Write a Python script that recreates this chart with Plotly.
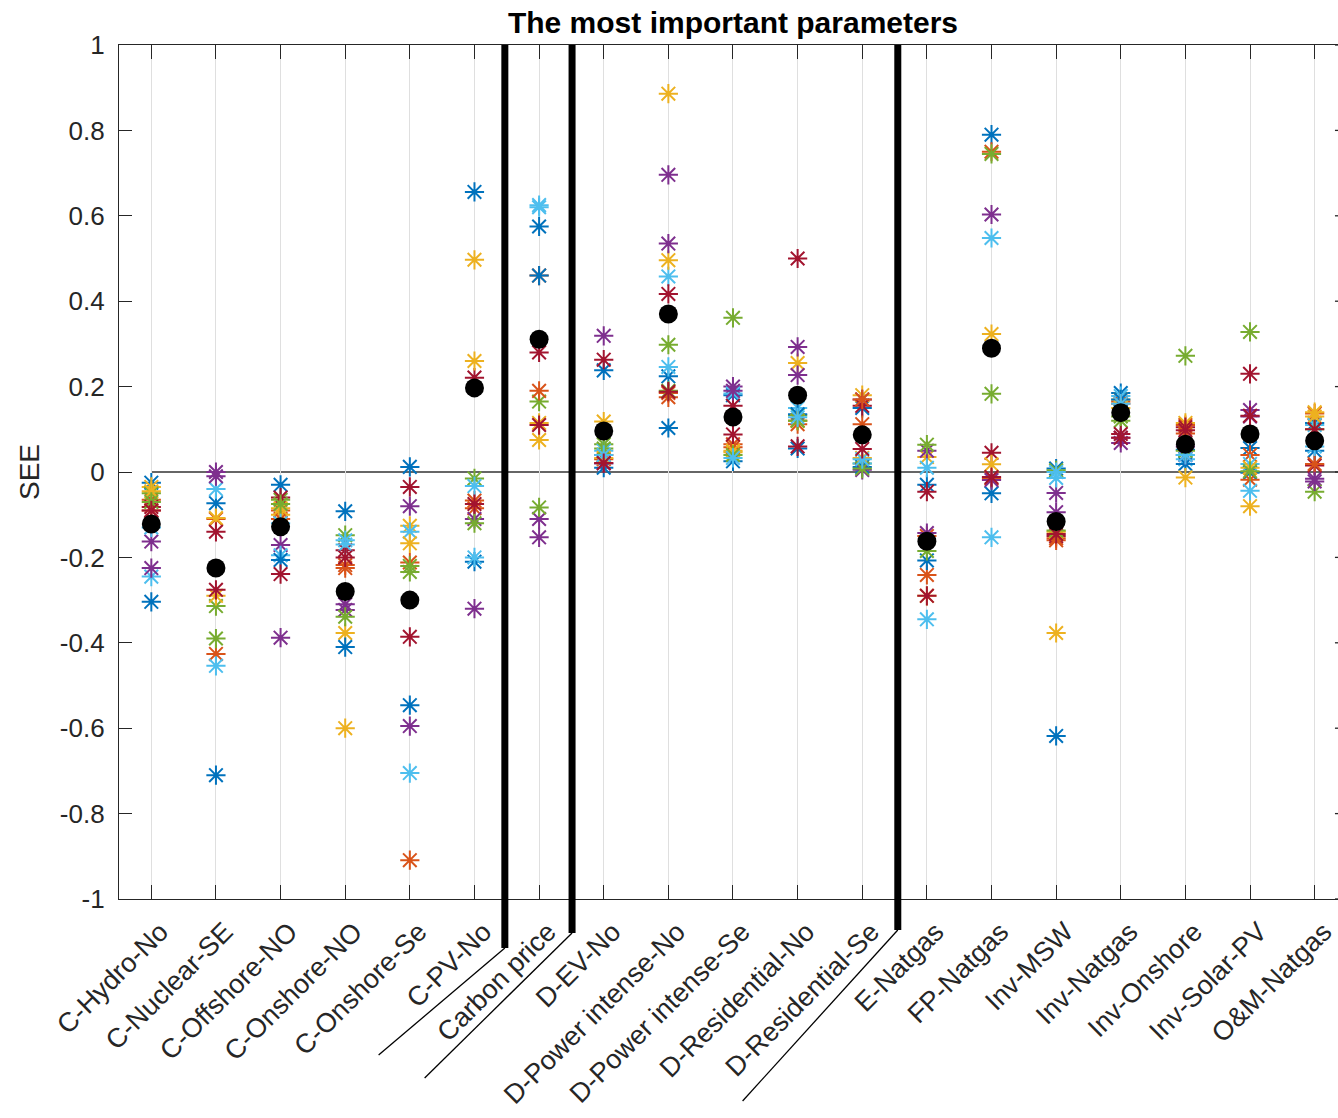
import plotly.graph_objects as go

categories = ["C-Hydro-No", "C-Nuclear-SE", "C-Offshore-NO", "C-Onshore-NO", "C-Onshore-Se",
              "C-PV-No", "Carbon price", "D-EV-No", "D-Power intense-No", "D-Power intense-Se",
              "D-Residential-No", "D-Residential-Se", "E-Natgas", "FP-Natgas", "Inv-MSW",
              "Inv-Natgas", "Inv-Onshore", "Inv-Solar-PV", "O&M-Natgas"]

run01 = [-0.025, -0.073, -0.03, -0.092, 0.012, 0.656, 0.575, 0.238, 0.224, 0.18, 0.055, 0.15, -0.03, 0.79, 0.008, 0.185, 0.052, 0.056, 0.115]
run02 = [-0.065, -0.11, -0.09, -0.218, -0.212, -0.067, 0.46, 0.03, 0.175, 0.058, 0.112, 0.112, -0.241, 0.75, -0.155, 0.165, 0.11, 0.04, 0.137]
run03 = [-0.035, -0.108, -0.1, -0.377, -0.126, 0.497, 0.115, 0.118, 0.886, 0.046, 0.255, 0.18, 0.035, 0.323, -0.377, 0.17, 0.115, -0.08, 0.14]
run04 = [-0.163, 0.0, -0.171, -0.31, -0.08, -0.32, -0.11, 0.319, 0.696, 0.2, 0.293, 0.17, 0.05, 0.603, -0.049, 0.068, 0.06, 0.145, -0.016]
run05 = [-0.05, -0.314, -0.065, -0.148, -0.234, -0.015, 0.165, 0.065, 0.298, 0.361, 0.133, 0.02, 0.064, 0.745, 0.004, 0.12, 0.272, 0.328, -0.046]
run06 = [-0.245, -0.04, -0.195, -0.16, -0.14, -0.033, 0.625, 0.05, 0.458, 0.184, 0.15, 0.02, 0.01, 0.548, -0.014, 0.178, 0.03, 0.019, 0.11]
run07 = [-0.082, -0.14, -0.06, -0.183, -0.035, 0.221, 0.28, 0.263, 0.417, 0.155, 0.5, 0.155, -0.046, 0.045, -0.15, 0.089, 0.105, 0.23, 0.015]
run08 = [-0.304, -0.71, -0.206, -0.41, -0.546, -0.21, 0.46, 0.01, 0.103, 0.025, 0.135, 0.012, -0.207, -0.05, -0.618, 0.17, 0.019, -0.002, 0.05]
run09 = [-0.09, -0.426, -0.11, -0.225, -0.909, -0.085, 0.19, 0.04, 0.185, 0.065, 0.12, 0.17, -0.15, -0.015, -0.16, 0.16, 0.09, -0.018, 0.019]
run10 = [-0.045, -0.29, -0.085, -0.6, -0.167, 0.26, 0.075, 0.033, 0.496, 0.05, 0.12, 0.033, -0.29, 0.018, -0.14, 0.15, -0.013, 0.01, 0.13]
run11 = [-0.225, -0.01, -0.388, -0.323, -0.595, -0.11, -0.153, 0.02, 0.535, 0.19, 0.227, 0.005, -0.143, -0.019, -0.094, 0.08, 0.04, 0.13, -0.022]
run12 = [-0.07, -0.39, -0.075, -0.339, -0.22, -0.12, -0.083, 0.055, 0.19, 0.04, 0.12, 0.008, -0.185, 0.183, -0.137, 0.13, 0.05, 0.002, 0.1]
run13 = [-0.13, -0.454, -0.12, -0.17, -0.705, -0.2, 0.62, 0.04, 0.246, 0.033, 0.128, 0.03, -0.345, -0.153, 0.0, 0.16, 0.04, -0.044, 0.06]
run14 = [-0.09, -0.276, -0.239, -0.2, -0.386, -0.075, 0.11, 0.021, 0.188, 0.088, 0.06, 0.054, -0.29, -0.012, -0.145, 0.08, 0.098, 0.132, 0.1]

mean_see = [-0.122, -0.225, -0.128, -0.28, -0.3, 0.197, 0.311, 0.096, 0.37, 0.129, 0.18, 0.087,
            -0.162, 0.29, -0.116, 0.139, 0.065, 0.089, 0.073]

y_ticks = [1, 0.8, 0.6, 0.4, 0.2, 0, -0.2, -0.4, -0.6, -0.8, -1]
y_tick_text = ["1", "0.8", "0.6", "0.4", "0.2", "0", "-0.2", "-0.4", "-0.6", "-0.8", "-1"]

runs = [run01, run02, run03, run04, run05, run06, run07, run08, run09, run10, run11, run12, run13, run14]
colors = ["#0072BD", "#D95319", "#EDB120", "#7E2F8E", "#77AC30", "#4DBEEE", "#A2142F"]

xpos = list(range(1, len(categories) + 1))
FONT = "Liberation Sans, Arial, Helvetica, sans-serif"
AX = "#262626"

W, H = 1338, 1118
L, T, PH = 119, 45, 854

fig = go.Figure()
for i, r in enumerate(runs):
    c = colors[i % 7]
    fig.add_trace(go.Scatter(x=xpos, y=r, mode="markers",
                             marker=dict(symbol="asterisk-open", size=16, color=c,
                                         line=dict(color=c, width=2)),
                             showlegend=False, hoverinfo="skip"))
fig.add_trace(go.Scatter(x=xpos, y=mean_see, mode="markers",
                         marker=dict(symbol="circle", size=19, color="black"),
                         showlegend=False))

x_right = 0.5 + (W - L) / 64.63

shapes = []
shapes.append(dict(type="line", xref="x", yref="y", x0=1, x1=x_right, y0=0, y1=0,
                   line=dict(color="#333333", width=1.3), layer="below"))
seps = [(6.47, -0.0574, 4.517, -0.1827), (7.51, -0.0398, 5.229, -0.2096), (12.55, -0.0363, 10.149, -0.2365)]
for xs, yb, xd, yd in seps:
    shapes.append(dict(type="line", xref="x", yref="paper", x0=xs, x1=xs, y0=yb, y1=1,
                       line=dict(color="black", width=7)))
    shapes.append(dict(type="line", xref="x", yref="paper", x0=xs, x1=xd, y0=yb, y1=yd,
                       line=dict(color="black", width=1.3)))
for v in y_ticks:
    shapes.append(dict(type="line", xref="paper", yref="y", x0=0.9975, x1=1.0, y0=v, y1=v,
                       line=dict(color=AX, width=1.3)))

fig.update_layout(
    width=W, height=H,
    margin=dict(l=L, r=0, t=T, b=H - T - PH, autoexpand=False),
    paper_bgcolor="white", plot_bgcolor="white",
    font=dict(family=FONT, size=26, color=AX),
    shapes=shapes,
    title=dict(text="<b>The most important parameters</b>", x=0.5037, xref="paper",
               xanchor="center", y=1 - 22 / H, yref="container", yanchor="middle",
               font=dict(family=FONT, size=30, color="black")),
    annotations=[dict(text="SEE", xref="paper", yref="paper", x=(29 - 119) / 1219, y=0.5,
                      textangle=-90, showarrow=False, xanchor="center", yanchor="middle",
                      font=dict(family=FONT, size=28, color=AX))],
)
fig.update_xaxes(range=[0.5, x_right], tickvals=xpos, ticktext=categories, tickangle=-45,
                 automargin=False,
                 showgrid=True, gridcolor="#DFDFDF", gridwidth=1,
                 showline=True, linecolor=AX, linewidth=1.3, mirror="ticks",
                 ticks="inside", ticklen=14, tickwidth=1.3, tickcolor=AX,
                 ticklabelshift=9, ticklabelstandoff=5,
                 zeroline=False, tickfont=dict(size=27, color=AX))
fig.update_yaxes(range=[-1, 1], tickvals=y_ticks, ticktext=y_tick_text,
                 automargin=False,
                 showgrid=False, zeroline=False,
                 showline=True, linecolor=AX, linewidth=1.3,
                 ticks="inside", ticklen=13, tickwidth=1.3, tickcolor=AX,
                 tickfont=dict(size=26, color=AX), ticklabelstandoff=8)

fig.write_html("out.html", config={"displayModeBar": False},
               post_script="document.body.style.margin='0';")
